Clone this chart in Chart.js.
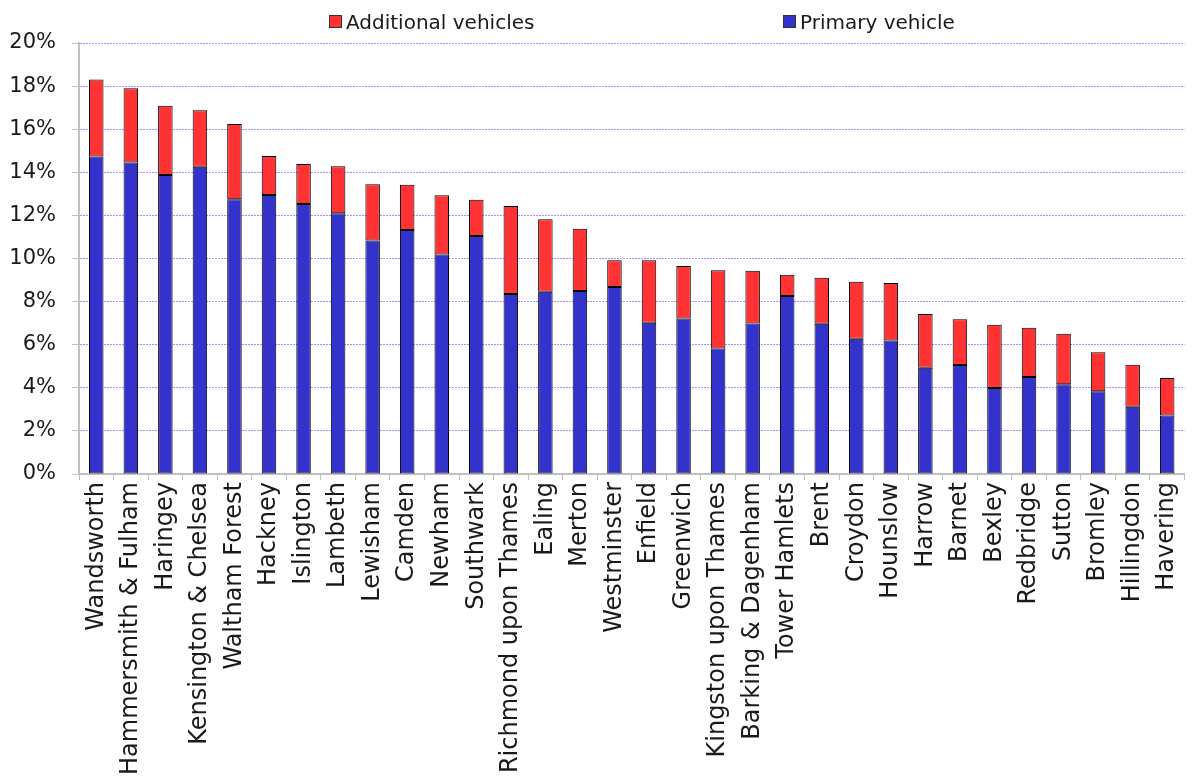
<!DOCTYPE html>
<html><head><meta charset="utf-8">
<script src="https://cdn.jsdelivr.net/npm/chart.js@4.4.1/dist/chart.umd.min.js"></script>
<style>
html,body{margin:0;padding:0;background:#fff;}
#wrap{position:relative;width:1198px;height:780px;}
#legend{position:absolute;top:9px;left:0;width:1198px;height:26px;font-family:"DejaVu Sans",sans-serif;font-size:20px;color:#1a1a1a;}
.item{position:absolute;top:0;white-space:nowrap;line-height:26px;}
.box{display:inline-block;width:11px;height:11px;border:1px solid #333;margin-right:4px;vertical-align:middle;position:relative;top:-2px;}
</style></head>
<body><div id="wrap"><canvas id="c" width="1198" height="780"></canvas>
<div id="legend"></div></div>
<script>
const categories = ["Wandsworth","Hammersmith & Fulham","Haringey","Kensington & Chelsea","Waltham Forest","Hackney","Islington","Lambeth","Lewisham","Camden","Newham","Southwark","Richmond upon Thames","Ealing","Merton","Westminster","Enfield","Greenwich","Kingston upon Thames","Barking & Dagenham","Tower Hamlets","Brent","Croydon","Hounslow","Harrow","Barnet","Bexley","Redbridge","Sutton","Bromley","Hillingdon","Havering"];
const primaryVehicle = [14.73,14.46,13.87,14.26,12.75,12.95,12.53,12.10,10.83,11.32,10.19,11.04,8.35,8.46,8.49,8.68,7.02,7.21,5.82,6.98,8.26,6.97,6.28,6.20,4.93,5.06,3.99,4.50,4.16,3.84,3.12,2.72];
const additionalVehicles = [3.58,3.44,3.22,2.62,3.49,1.81,1.86,2.18,2.61,2.10,2.74,1.69,4.09,3.36,2.89,1.24,2.90,2.44,3.63,2.45,0.99,2.14,2.64,2.66,2.49,2.12,2.94,2.29,2.35,1.81,1.95,1.73];
const seriesNames = ["Primary vehicle","Additional vehicles"];
const seriesColors = ["#3333cc","#ff3333"];
const yTicks = [0,2,4,6,8,10,12,14,16,18,20];

const legendItems = [
  {name: seriesNames[1], color: seriesColors[1], left: 329},
  {name: seriesNames[0], color: seriesColors[0], left: 783}
];
const lg = document.getElementById('legend');
legendItems.forEach(it => {
  const d = document.createElement('div');
  d.className = 'item';
  d.style.left = it.left + 'px';
  const b = document.createElement('span');
  b.className = 'box';
  b.style.background = it.color;
  d.appendChild(b);
  d.appendChild(document.createTextNode(it.name));
  lg.appendChild(d);
});

const font = {family: '"DejaVu Sans", sans-serif'};
new Chart(document.getElementById('c'), {
  type: 'bar',
  data: {
    labels: categories,
    datasets: [
      {label: seriesNames[0], data: primaryVehicle, backgroundColor: seriesColors[0], borderColor: '#000', borderWidth: 1, borderSkipped: false, categoryPercentage: 1, barPercentage: 0.42},
      {label: seriesNames[1], data: additionalVehicles, backgroundColor: seriesColors[1], borderColor: '#000', borderWidth: 1, borderSkipped: false, categoryPercentage: 1, barPercentage: 0.42}
    ]
  },
  options: {
    responsive: false,
    animation: false,
    devicePixelRatio: 1,
    layout: {padding: {top: 43, right: 0, left: 0, bottom: 0}},
    plugins: {legend: {display: false}, tooltip: {enabled: false}},
    scales: {
      x: {
        stacked: true,
        offset: true,
        grid: {display: true, drawOnChartArea: false, drawTicks: true, tickLength: 6, tickColor: '#c0c0c0', offset: true},
        border: {display: true, color: '#c0c0c0', width: 2},
        ticks: {autoSkip: false, minRotation: 90, maxRotation: 90, padding: 2, color: '#1a1a1a', font: {...font, size: 24}},
        afterFit: s => { s.height = 306; }
      },
      y: {
        stacked: true,
        min: 0, max: 20,
        afterBuildTicks: s => { s.ticks = yTicks.map(v => ({value: v})); },
        grid: {color: '#a78ef5', lineWidth: 1, tickLength: 7, tickColor: '#c0c0c0', tickBorderDash: []},
        border: {display: true, color: '#c0c0c0', width: 2, dash: [2, 1]},
        ticks: {padding: 16, color: '#1a1a1a', font: {...font, size: 21}, callback: v => v + '%'},
        afterFit: s => { s.width = 79; }
      }
    }
  }
});
</script></body></html>
